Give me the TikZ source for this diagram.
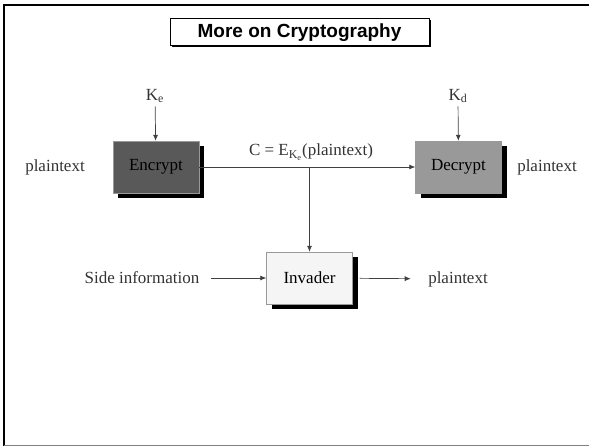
\documentclass[tikz,border=0pt]{standalone}
\usepackage{fontspec}
\setmainfont{Liberation Serif}
\newfontfamily\headfont{Liberation Sans}
\usetikzlibrary{arrows.meta,shadows}

\begin{document}
\begin{tikzpicture}[x=1pt,y=-1pt,
        every node/.style={font=\fontsize{17}{20}\selectfont, text=black!80},
        cryptobox/.style={draw=gray!80, text=black, minimum width=86pt, minimum height=52pt,
            drop shadow={shadow xshift=5pt, shadow yshift=-5pt, fill=black, opacity=1}},
        flow/.style={draw=black!75, line width=0.7pt, -{Latex[length=6pt,width=5pt]}}]
        \useasboundingbox (0,0) rectangle (589,446);

        % slide frame
        \draw [line width=2.2pt] (589,5) -- (4,5) -- (4,446);
        \draw [gray, line width=1pt] (4,445) -- (589,445);

        \node [draw, line width=1pt, fill=white, minimum width=259pt, minimum height=27pt,
               font=\headfont\bfseries\fontsize{19}{22}\selectfont, text=black,
               drop shadow={shadow xshift=1.5pt, shadow yshift=-1.5pt, fill=black, opacity=1}]
               (title) at (299.5,32.5) {More on Cryptography};

        % boxes
        \node [cryptobox, fill=black!65] (encrypt) at (156,167) {Encrypt};
        \node [cryptobox, fill=black!40] (decrypt) at (458.5,167) {Decrypt};
        \node [cryptobox, fill=black!4] (invader) at (309.5,278) {Invader};

        % labels
        \node (ke) at (155,96) {K\textsubscript{e}};
        \node (kd) at (458,96) {K\textsubscript{d}};
        \node (ptin) at (55,167) {plaintext};
        \node (ptout) at (547,167) {plaintext};
        \node (side) at (142,278) {Side information};
        \node (ptinv) at (458,279) {plaintext};
        \node (cipher) at (311,152) {C = E\textsubscript{K\textsubscript{e}}(plaintext)};
        \coordinate (tap) at (309.5,167);

        % connectors
        \draw [flow] (ke) -- (encrypt);
        \draw [flow] (kd) -- (decrypt);
        \draw [flow] (encrypt) -- (decrypt);
        \draw [flow] (tap) -- (invader);
        \draw [flow, shorten <=8pt] (side) -- (invader);
        \draw [flow, shorten <=7pt, shorten >=14pt] (invader) -- (ptinv);
\end{tikzpicture}
\end{document}
